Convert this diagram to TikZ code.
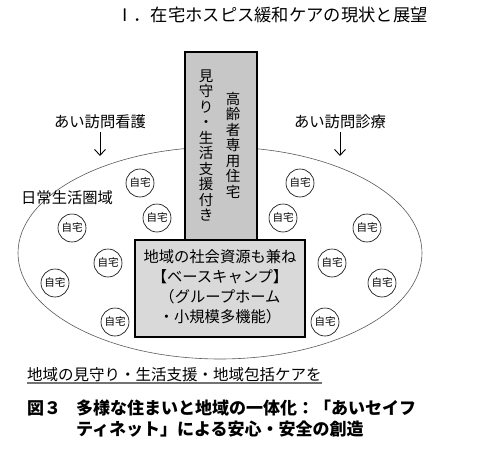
\documentclass[tikz,border=0pt]{standalone}
\usepackage{fontspec}
\setmainfont{Noto Sans CJK JP}
\usetikzlibrary{arrows.meta}
\begin{document}
\begin{tikzpicture}[x=1pt,y=-1pt,
  home/.style={circle,draw,line width=0.6pt,fill=white,minimum size=28pt,inner sep=0pt,font=\fontsize{10.5}{11}\selectfont},
  lbl/.style={inner sep=0pt,font=\fontsize{15.3}{16}\selectfont},
  vtext/.style={inner sep=0pt,align=center,font=\fontsize{14.5}{15.5}\selectfont},
  arr/.style={line width=0.9pt,-{Straight Barb[length=6pt,width=11pt]}},
  tallbox/.style={draw,line width=1.6pt,fill=black!22},
  basebox/.style={draw,line width=1.6pt,fill=black!15,minimum width=170pt,minimum height=97pt,inner sep=0pt},
]
\useasboundingbox (0,0) rectangle (480,463);
% title
\node[inner sep=0pt,font=\fontsize{17.3}{18}\selectfont] (title) at (272,15) {Ⅰ．在宅ホスピス緩和ケアの現状と展望};
% area ellipse
\draw[line width=0.6pt,black!65,fill=white] (220,253) ellipse [x radius=202, y radius=106];
\node[lbl,anchor=west] (area) at (21,198) {日常生活圏域};
% tall box
\draw[tallbox] (185,52) rectangle (257,246);
\node[vtext] (v1) at (206,145.5) {見\\守\\り\\・\\生\\活\\支\\援\\付\\き};
\node[vtext] (v2) at (233,145) {高\\齢\\者\\専\\用\\住\\宅};
% base box
\node[basebox] (base) at (220,288.5) {};
\node[inner sep=0pt,align=center,font=\fontsize{15.3}{20}\selectfont] (basetext) at (220,287) {地域の社会資源も兼ね\\【ベースキャンプ】\\（グループホーム\\・小規模多機能）};
% visit labels and arrows
\node[lbl] (lv) at (100,122) {あい訪問看護};
\node[lbl] (rv) at (340,122) {あい訪問診療};
\coordinate (la) at (100,156);
\coordinate (ra) at (340,156);
\draw[arr] ([yshift=-3pt]lv.south) -- (la);
\draw[arr] ([yshift=-3pt]rv.south) -- (ra);
% homes
\node[home] (h1) at (140,183) {自宅};
\node[home] (h2) at (157,218) {自宅};
\node[home] (h3) at (72,228) {自宅};
\node[home] (h4) at (108,263) {自宅};
\node[home] (h5) at (55,283) {自宅};
\node[home] (h6) at (115,322) {自宅};
\node[home] (h7) at (300,183) {自宅};
\node[home] (h8) at (283,218) {自宅};
\node[home] (h9) at (367,228) {自宅};
\node[home] (h10) at (332,263) {自宅};
\node[home] (h11) at (382,283) {自宅};
\node[home] (h12) at (325,322) {自宅};
% bottom text
\node[inner sep=0pt,anchor=west,font=\fontsize{15.5}{16}\selectfont] (bt) at (27,375) {地域の見守り・生活支援・地域包括ケアを};
\draw[black!55,line width=1.3pt] (27,383) -- (bt.east |- 0,383);
% caption
\node[inner sep=0pt,anchor=west,font=\bfseries\fontsize{17}{18}\selectfont] (cap1) at (27,408) {図３};
\node[inner sep=0pt,anchor=west,font=\bfseries\fontsize{17}{18}\selectfont] (cap2) at (76,408) {多様な住まいと地域の一体化：「あいセイフ};
\node[inner sep=0pt,anchor=west,font=\bfseries\fontsize{17}{18}\selectfont] (cap3) at (76,429) {ティネット」による安心・安全の創造};
\end{tikzpicture}
\end{document}
